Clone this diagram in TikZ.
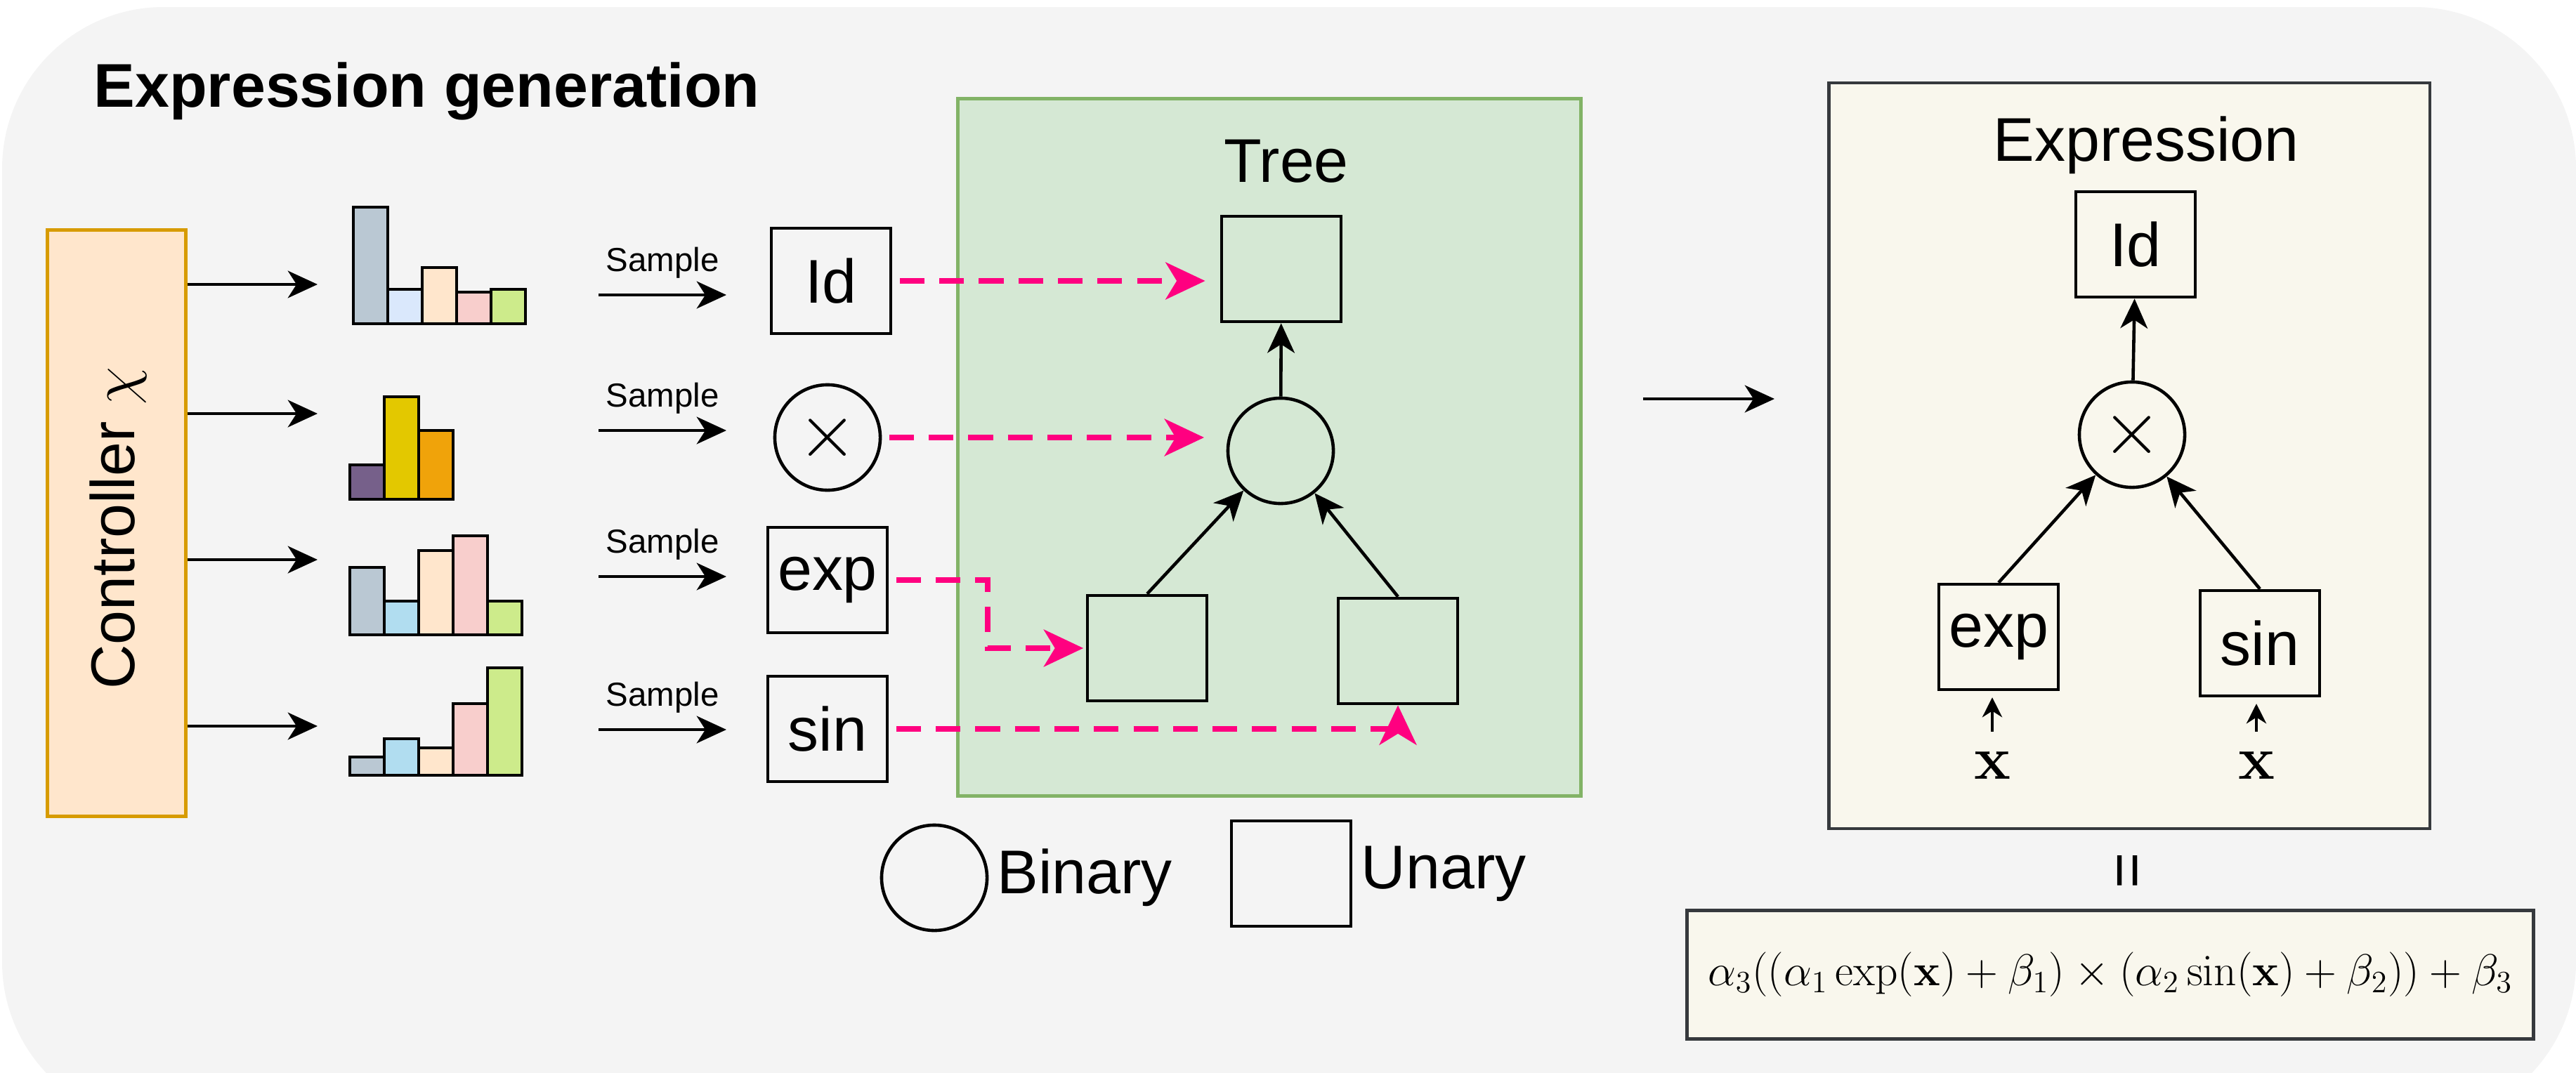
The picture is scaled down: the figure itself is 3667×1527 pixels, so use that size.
\documentclass[tikz,border=0pt]{standalone}
\usepackage{graphicx}
\usepackage[no-math]{fontspec}
\setmainfont{Liberation Sans}
\usetikzlibrary{arrows.meta,positioning}
\definecolor{bggray}{HTML}{F4F4F4}
\definecolor{ctrlfill}{HTML}{FFE6CC}
\definecolor{ctrlline}{HTML}{D79B00}
\definecolor{treefill}{HTML}{D5E8D4}
\definecolor{treeline}{HTML}{82B366}
\definecolor{exprfill}{HTML}{F9F7ED}
\definecolor{exprline}{HTML}{36393D}
\definecolor{samplepink}{HTML}{FF0080}
\definecolor{barA}{HTML}{BAC8D3}
\definecolor{barB}{HTML}{DAE8FC}
\definecolor{barC}{HTML}{FFE6CC}
\definecolor{barD}{HTML}{F8CECC}
\definecolor{barE}{HTML}{CDEB8B}
\definecolor{barF}{HTML}{B1DDF0}
\definecolor{barP}{HTML}{76608A}
\definecolor{barY}{HTML}{E3C800}
\definecolor{barO}{HTML}{F0A30A}
\newcommand{\optimes}{\scalebox{1.25}{$\times$}}

\begin{document}
\begin{tikzpicture}[x=0.01cm,y=-0.01cm,font=\fontsize{25}{30}\selectfont,
  arr/.style={-{Stealth[length=12pt,width=11pt,inset=3.5pt]},line width=1.3pt},
  arrsmall/.style={-{Stealth[length=8pt,width=8pt,inset=2.5pt]},line width=1.3pt},
  pinkarr/.style={-{Stealth[length=16pt,width=15pt,inset=4.5pt]},draw=samplepink,
    line width=2.2pt,dash pattern=on 10pt off 6pt},
  opbox/.style={draw,line width=1.3pt,minimum width=1.7cm,minimum height=1.5cm,inner sep=0pt},
  opcirc/.style={draw,circle,line width=1.3pt,minimum size=1.5cm,inner sep=0pt},
  bar/.style={draw,line width=1.2pt},
  frame/.style={line width=1.3pt}]
  \useasboundingbox (0,0) rectangle (3667,1527);
  \begin{scope}
    \clip (0,0) rectangle (3667,1527);
    \fill[bggray,rounded corners=2.3cm] (3,10) rectangle (3667,1600);
  \end{scope}

  \node[anchor=base west,inner sep=0pt,font=\fontsize{25}{30}\selectfont\bfseries] (title) at (133,152) {Expression generation};

  % controller and the four distributions
  \node[frame,draw=ctrlline,fill=ctrlfill,minimum width=1.97cm,minimum height=8.34cm] (ctrl) at (166,745) {};
  \node[rotate=90] (ctrltxt) at (168,752) {Controller $\chi$};
  \coordinate (h1) at (452,405);
  \coordinate (h2) at (452,589);
  \coordinate (h3) at (452,797);
  \coordinate (h4) at (452,1034);
  \foreach \h in {h1,h2,h3,h4}
    \draw[arr] (ctrl.east |- \h) -- (\h);

  \foreach \t/\c [count=\i from 0] in {166/barA,49/barB,80/barC,45/barD,49/barE}
    \draw[bar,fill=\c] (503+\i*49,461) rectangle ++(49,-\t);
  \foreach \t/\c [count=\i from 0] in {49/barP,146/barY,98/barO}
    \draw[bar,fill=\c] (498+\i*49,711) rectangle ++(49,-\t);
  \foreach \t/\c [count=\i from 0] in {96/barA,48/barF,120/barC,141/barD,48/barE}
    \draw[bar,fill=\c] (498+\i*49,904) rectangle ++(49,-\t);
  \foreach \t/\c [count=\i from 0] in {26/barA,52/barF,39/barC,102/barD,153/barE}
    \draw[bar,fill=\c] (498+\i*49,1104) rectangle ++(49,-\t);

  % sampled operators
  \coordinate (s1) at (852,420);
  \coordinate (s2) at (852,613);
  \coordinate (s3) at (852,821);
  \coordinate (s4) at (852,1039);
  \foreach \s in {s1,s2,s3,s4}
    \draw[arr] (\s) -- ++(182,0) node[midway,above,inner sep=6pt,font=\fontsize{13.5}{16}\selectfont] {Sample};
  \node[opbox] (id) at (1183,400) {Id};
  \node[opcirc] (mul) at (1178,623) {\optimes};
  \node[opbox] (ex) at (1178,826) {exp};
  \node[opbox] (sn) at (1178,1038) {sin};

  % tree
  \node[frame,draw=treeline,fill=treefill,minimum width=8.86cm,minimum height=9.92cm] (tree) at (1807,637) {};
  \node (treelbl) at (1831,230) {Tree};
  \node[opbox] (t1) at (1824,383) {};
  \node[opcirc] (tc) at (1823,642) {};
  \node[opbox] (bl) at (1633,923) {};
  \node[opbox] (br) at (1990,927) {};
  \draw[arr] (tc) -- (t1);
  \draw[arr] (bl.north) -- (tc);
  \draw[arr] (br.north) -- (tc);

  \draw[pinkarr,shorten <=3pt,shorten >=6pt] (id.east) -- (id.east -| t1.west);
  \draw[pinkarr,shorten <=3pt,shorten >=9pt] (mul.east) -- (mul.east -| tc.west);
  \draw[pinkarr,shorten <=3pt,shorten >=1pt] (ex.east) -- ++(141,0) |- (bl.west);
  \draw[pinkarr,shorten <=3pt] (sn.east) -| (br.south);

  % legend
  \node[opcirc] (lgbin) at (1330,1250) {};
  \node[right=0pt of lgbin] (lgbintxt) {Binary};
  \node[opbox] (lgun) at (1838,1244) {};
  \node[right=0pt of lgun] (lguntxt) {Unary};

  \coordinate (go) at (2339,568);
  \draw[arr] (go) -- ++(187,0);

  % resulting expression
  \node[frame,draw=exprline,fill=exprfill,minimum width=8.55cm,minimum height=10.61cm] (expr) at (3031,649) {};
  \node (exprlbl) at (3055,207) {Expression};
  \node[opbox] (eid) at (3040,348) {Id};
  \node[opcirc] (emul) at (3035,619) {\optimes};
  \node[opbox] (eexp) at (2845,907) {exp};
  \node[opbox] (esin) at (3217,916) {sin};
  \node[inner sep=0pt,font=\fontsize{28}{32}\selectfont] (xa) at (2836,1090) {$\mathbf{x}$};
  \node[inner sep=0pt,font=\fontsize{28}{32}\selectfont] (xb) at (3212,1090) {$\mathbf{x}$};
  \draw[arr] (emul) -- (eid);
  \draw[arr] (eexp.north) -- (emul);
  \draw[arr] (esin.north) -- (emul);
  \draw[arrsmall,shorten <=8pt,shorten >=2.5pt] (xa.north) -- (xa |- eexp.south);
  \draw[arrsmall,shorten <=8pt,shorten >=2.5pt] (xb.north) -- (xb |- esin.south);

  \node[rotate=90] (eq) at (3036,1240) {=};
  \node[frame,draw=exprline,fill=exprfill,minimum width=12.04cm,minimum height=1.83cm] (formula) at (3004,1388) {};
  \node[font=\fontsize{17.28}{21}\selectfont,scale=1.045,transform shape] (formtxt) at (formula)
    {$\alpha_3((\alpha_1\exp(\mathbf{x})+\beta_1)\times(\alpha_2\sin(\mathbf{x})+\beta_2))+\beta_3$};
\end{tikzpicture}
\end{document}
